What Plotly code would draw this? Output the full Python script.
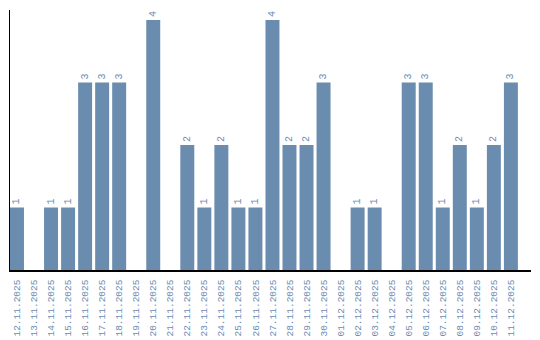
import plotly.graph_objects as go

dates = ["12.11.2025","13.11.2025","14.11.2025","15.11.2025","16.11.2025","17.11.2025",
         "18.11.2025","19.11.2025","20.11.2025","21.11.2025","22.11.2025","23.11.2025",
         "24.11.2025","25.11.2025","26.11.2025","27.11.2025","28.11.2025","29.11.2025",
         "30.11.2025","01.12.2025","02.12.2025","03.12.2025","04.12.2025","05.12.2025",
         "06.12.2025","07.12.2025","08.12.2025","09.12.2025","10.12.2025","11.12.2025"]
values = [1,0,1,1,3,3,3,0,4,0,2,1,2,1,1,4,2,2,3,0,1,1,0,3,3,1,2,1,2,3]
labels = [str(v) if v > 0 else "" for v in values]

bar_color = "#6a8caf"
text_color = "#6a8cb3"
font = "Liberation Mono"

fig = go.Figure(go.Bar(
    x=dates, y=values, marker_color=bar_color, marker_line_width=0,
    text=labels, textposition="outside", textangle=-90,
    textfont=dict(family=font, size=10, color=text_color),
    cliponaxis=False,
))
fig.update_layout(
    width=540, height=340,
    margin=dict(l=10, r=9, t=10, b=70),
    plot_bgcolor="white", paper_bgcolor="white",
    bargap=0.18, showlegend=False,
)
fig.update_xaxes(type="category", range=[-0.41, 30.18], showline=True, linecolor="black",
                 linewidth=1.5, ticks="", tickangle=-90, automargin=False, ticklabelstandoff=4,
                 tickfont=dict(family=font, size=9.5, color=text_color), showgrid=False)
fig.update_yaxes(range=[0, 4.16], showline=True, linecolor="black", linewidth=1,
                 showticklabels=False, ticks="", showgrid=False, zeroline=False,
                 automargin=False)
fig.write_html("out.html")
